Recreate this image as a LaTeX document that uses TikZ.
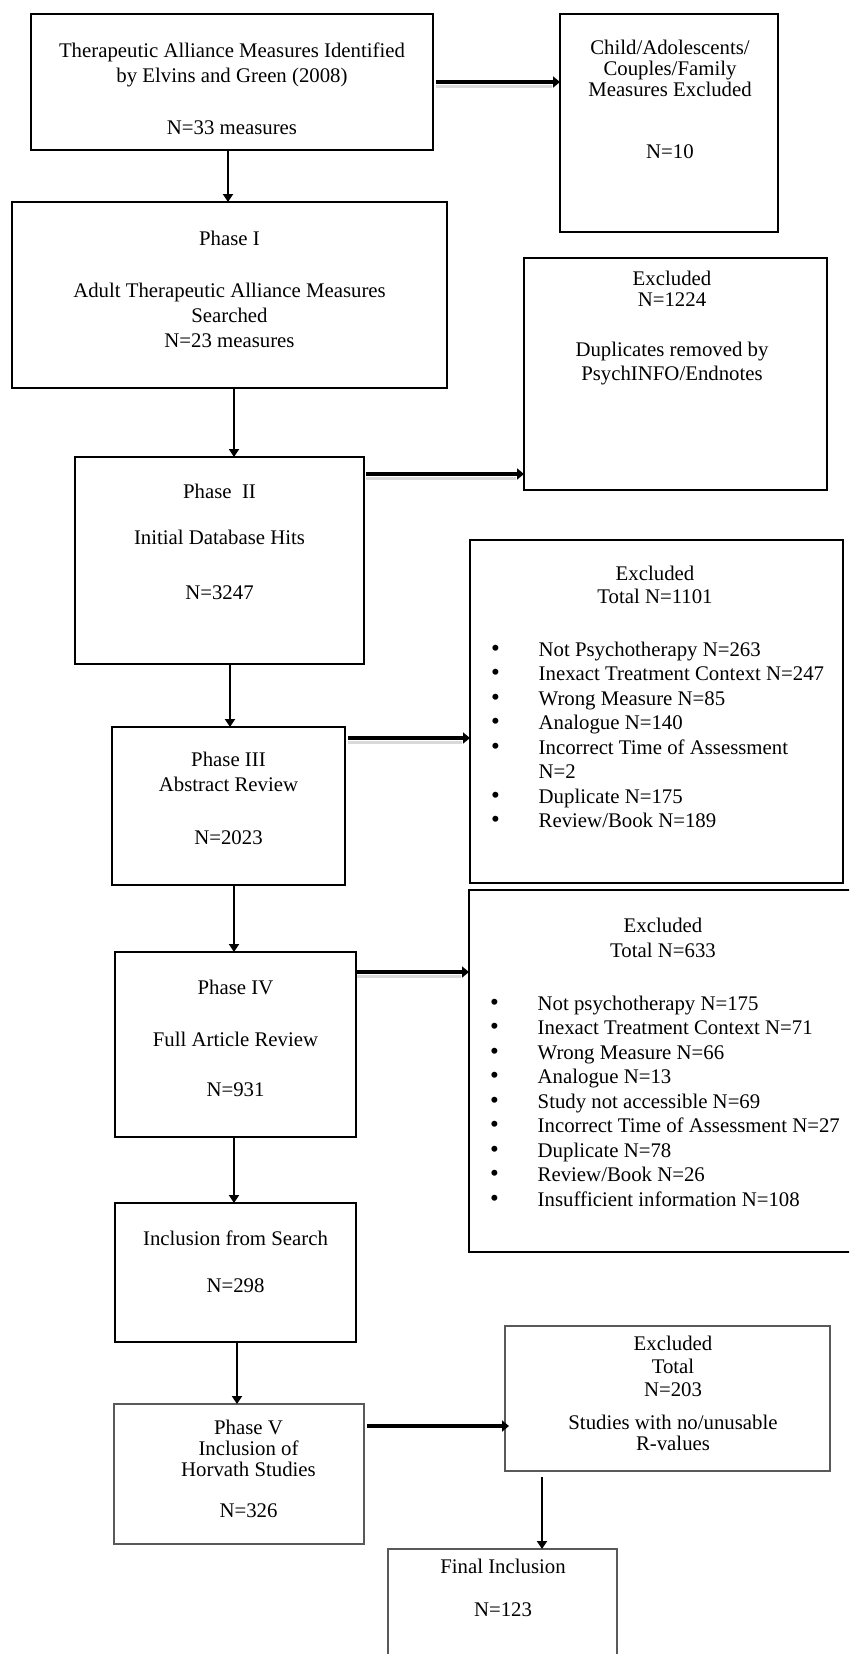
\documentclass[tikz,border=0pt]{standalone}
\usepackage{fontspec}
\setmainfont{Liberation Serif}
\usetikzlibrary{arrows.meta}
\tikzset{
  box/.style={draw=black, line width=1.6pt, inner sep=0pt, outer sep=0pt},
  lightbox/.style={draw=black!65, line width=1.2pt, inner sep=0pt, outer sep=0pt},
  lbl/.style={font=\fontsize{20.8}{25}\selectfont, align=center, inner sep=0pt, anchor=north},
  lbltight/.style={font=\fontsize{20.8}{21}\selectfont, align=center, inner sep=0pt, anchor=north},
  blist/.style={font=\fontsize{20.8}{24.5}\selectfont, align=left, inner sep=0pt, anchor=north west},
  varr/.style={line width=2.8pt, -{Triangle[width=10pt,length=8pt]}},
  harr/.style={line width=4.5pt, -{Triangle[width=11pt,length=7pt]}},
  hshadow/.style={line width=3pt, draw=black!15}
}
\newcommand{\bl}{\makebox[47.5pt][l]{{\fontsize{25}{24.5}\selectfont\textbullet}}}
\begin{document}
\begin{tikzpicture}[x=1pt, y=-1pt]
\path[use as bounding box, clip] (0,0) rectangle (849,1654);
\fill[white] (0,0) rectangle (849,1654);

% boxes
\node[box, minimum width=402pt, minimum height=136pt] (a) at (232,82) {};
\node[box, minimum width=218pt, minimum height=218pt] (child) at (669,123) {};
\node[box, minimum width=435pt, minimum height=186pt] (p1) at (229.5,295) {};
\node[box, minimum width=303pt, minimum height=232pt] (dup) at (675.5,374) {};
\node[box, minimum width=289pt, minimum height=207pt] (p2) at (219.5,560.5) {};
\node[box, minimum width=233pt, minimum height=158pt] (p3) at (228.5,806) {};
\node[box, minimum width=373pt, minimum height=343pt] (ex1) at (656.5,711.5) {};
\node[box, minimum width=241pt, minimum height=185pt] (p4) at (235.5,1044.5) {};
\node[box, minimum width=401pt, minimum height=362pt] (ex2) at (669.5,1071) {};
\node[box, minimum width=241pt, minimum height=139pt] (inc) at (235.5,1272.5) {};
\node[lightbox, minimum width=250pt, minimum height=140pt] (p5) at (239,1474) {};
\node[lightbox, minimum width=325pt, minimum height=145pt] (ex3) at (667.5,1398.5) {};
\node[lightbox, minimum width=229pt, minimum height=131pt] (fin) at (502.5,1614.5) {};

% texts
\node[lbl] (ta) at (232,39.5) {\strut Therapeutic Alliance Measures Identified\\ by Elvins and Green (2008)\\[27pt] N=33 measures};
\node[lbltight] (tchild) at (670,39.3) {\strut Child/Adolescents/\\ Couples/Family\\ Measures Excluded\\[41pt] N=10};
\node[lbl] (tp1) at (229.5,227.5) {\strut Phase I\\[27pt] Adult Therapeutic Alliance Measures\\ Searched\\ N=23 measures};
\node[lbl] (tdup) at (672,267.5) {\strut Excluded\\[-4pt] N=1224\\[25pt] Duplicates removed by\\[-1pt] PsychINFO/Endnotes};
\node[lbl] (tp2) at (219.5,480.5) {\strut Phase\ \ II\\[21pt] Initial Database Hits\\[30pt] N=3247};
\node[lbl] (tp3) at (228.5,748.5) {\strut Phase III\\ Abstract Review\\[28pt] N=2023};
\node[lbl] (tex1) at (655,562.5) {\strut Excluded\\[-2pt] Total N=1101};
\node[blist] (lex1) at (491,638.9) {\strut\bl Not Psychotherapy N=263\\
\bl Inexact Treatment Context N=247\\
\bl Wrong Measure N=85\\
\bl Analogue N=140\\
\bl Incorrect Time of Assessment\\
\hspace*{47.5pt}N=2\\
\bl Duplicate N=175\\
\bl Review/Book N=189};
\node[lbl] (tp4) at (235.5,976.5) {\strut Phase IV\\[27pt] Full Article Review\\[25pt] N=931};
\node[lbl] (tex2) at (663,914.5) {\strut Excluded\\ Total N=633};
\node[blist] (lex2) at (490,992.9) {\strut\bl Not psychotherapy N=175\\
\bl Inexact Treatment Context N=71\\
\bl Wrong Measure N=66\\
\bl Analogue N=13\\
\bl Study not accessible N=69\\
\bl Incorrect Time of Assessment N=27\\
\bl Duplicate N=78\\
\bl Review/Book N=26\\
\bl Insufficient information N=108};
\node[lbl] (tinc) at (235.5,1227.5) {\strut Inclusion from Search\\[22pt] N=298};
\node[lbltight] (tp5) at (248.5,1419.3) {\strut Phase V\\ Inclusion of\\ Horvath Studies\\[20pt] N=326};
\node[lbltight] (tex3) at (673,1335.3) {\strut Excluded\\[2pt] Total\\[2pt] N=203\\[12pt] Studies with no/unusable\\ R-values};
\node[lbl] (tfin) at (503,1555.5) {\strut Final Inclusion\\[18pt] N=123};

% arrow guide coordinates
\coordinate (v1) at (228,0);
\coordinate (v2) at (234,0);
\coordinate (v3) at (230,0);
\coordinate (v4) at (234,0);
\coordinate (v5) at (234,0);
\coordinate (v6) at (237,0);
\coordinate (v7) at (542,0);
\coordinate (h1) at (0,82);
\coordinate (h2) at (0,474);
\coordinate (h3) at (0,738);
\coordinate (h4) at (0,972);
\coordinate (h5) at (0,1426);

% vertical arrows
\draw[varr] (a.south -| v1) -- (p1.north -| v1);
\draw[varr] (p1.south -| v2) -- (p2.north -| v2);
\draw[varr] (p2.south -| v3) -- (p3.north -| v3);
\draw[varr] (p3.south -| v4) -- (p4.north -| v4);
\draw[varr] (p4.south -| v5) -- (inc.north -| v5);
\draw[varr] (inc.south -| v6) -- (p5.north -| v6);
\draw[varr] ([yshift=-6pt]ex3.south -| v7) -- (fin.north -| v7);

% horizontal arrows with light shadow
\draw[hshadow] ([xshift=3pt,yshift=-4pt]a.east |- h1) -- ([xshift=-8pt,yshift=-4pt]child.west |- h1);
\draw[harr] ([xshift=3pt]a.east |- h1) -- (child.west |- h1);
\draw[hshadow] ([xshift=2pt,yshift=-4pt]p2.east |- h2) -- ([xshift=-8pt,yshift=-4pt]dup.west |- h2);
\draw[harr] ([xshift=2pt]p2.east |- h2) -- (dup.west |- h2);
\draw[hshadow] ([xshift=3pt,yshift=-4pt]p3.east |- h3) -- ([xshift=-8pt,yshift=-4pt]ex1.west |- h3);
\draw[harr] ([xshift=3pt]p3.east |- h3) -- (ex1.west |- h3);
\draw[hshadow] ([xshift=1pt,yshift=-4pt]p4.east |- h4) -- ([xshift=-8pt,yshift=-4pt]ex2.west |- h4);
\draw[harr] ([xshift=1pt]p4.east |- h4) -- (ex2.west |- h4);
\draw[harr] ([xshift=3pt]p5.east |- h5) -- ([xshift=4pt]ex3.west |- h5);
\end{tikzpicture}
\end{document}
